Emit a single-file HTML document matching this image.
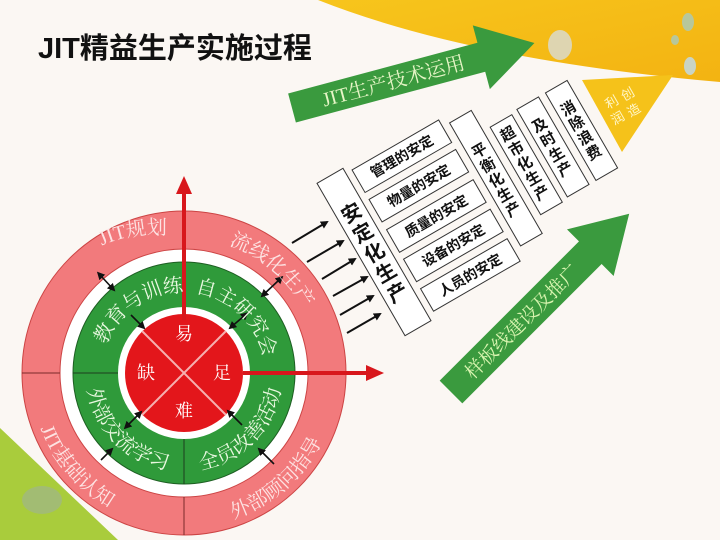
<!DOCTYPE html>
<html><head><meta charset="utf-8"><style>
html,body{margin:0;padding:0;background:#fbf7f3;}
svg{display:block;font-family:"Liberation Sans","Noto Sans CJK SC",sans-serif;}
</style></head><body>
<svg width="720" height="540" viewBox="0 0 720 540" xmlns="http://www.w3.org/2000/svg">
<defs>
<marker id="ah" markerWidth="8" markerHeight="8" refX="6" refY="4" orient="auto" markerUnits="userSpaceOnUse"><path d="M0,0 L8,4 L0,8 Z" fill="#111"/></marker>
<marker id="as" markerWidth="8" markerHeight="8" refX="2" refY="4" orient="auto-start-reverse" markerUnits="userSpaceOnUse"><path d="M0,0 L8,4 L0,8 Z" fill="#111"/></marker>
<linearGradient id="yel" x1="0" y1="0" x2="1" y2="1"><stop offset="0" stop-color="#f7c51c"/><stop offset="1" stop-color="#f3b312"/></linearGradient>
</defs>
<rect width="720" height="540" fill="#fbf7f3"/>
<path d="M318,0 Q470,60 720,82 L720,0 Z" fill="url(#yel)"/>
<path d="M0,428 L118,540 L0,540 Z" fill="#a9cc3c"/>
<ellipse cx="42" cy="500" rx="20" ry="14" fill="#9fb58a" opacity="0.7"/>
<ellipse cx="560" cy="45" rx="12" ry="15" fill="#d8dcd8" opacity="0.8"/>
<ellipse cx="688" cy="22" rx="6" ry="9" fill="#b7c79b"/>
<ellipse cx="675" cy="40" rx="4" ry="5" fill="#b7c79b"/>
<ellipse cx="690" cy="66" rx="6" ry="9" fill="#c9d4c4"/>

<text x="38" y="58" font-size="29" font-weight="bold" fill="#111">JIT精益生产实施过程</text>

<g transform="translate(292,108) rotate(-15)">
<polygon points="0,-15 196,-15 196,-33 251,0 196,33 196,15 0,15" fill="#3a9a3e"/>
<text x="105" y="7" font-size="20" fill="#e6f5c6" text-anchor="middle" font-family="Liberation Serif,Noto Serif CJK SC,serif">JIT生产技术运用</text>
</g>
<g transform="translate(451,392) rotate(-45)">
<polygon points="0,-16 197,-16 197,-33 252,0 197,33 197,16 0,16" fill="#3a9a3e"/>
<text x="100" y="7" font-size="19" fill="#d9f5b0" text-anchor="middle" font-family="Liberation Serif,Noto Serif CJK SC,serif">样板线建设及推广</text>
</g>

<polygon points="582,80 673,75 622,152" fill="#f5c21a"/>
<g font-size="13" fill="#fff6c8" text-anchor="middle">
<text transform="translate(630,98) rotate(-30)">创</text>
<text transform="translate(636,114) rotate(-30)">造</text>
<text transform="translate(614,106) rotate(-30)">利</text>
<text transform="translate(620,122) rotate(-30)">润</text>
</g>

<g transform="translate(374,252) rotate(-30)" fill="#fff" stroke="#333" stroke-width="1">
<rect x="-15" y="-88" width="30" height="176"/>
<rect x="22" y="-82" width="100" height="26"/>
<rect x="22" y="-48" width="100" height="26"/>
<rect x="22" y="-13" width="100" height="26"/>
<rect x="22" y="21" width="100" height="26"/>
<rect x="22" y="55" width="100" height="26"/>
<rect x="130" y="-74" width="25" height="142"/>
<rect x="163" y="-50" width="25" height="101"/>
<rect x="195" y="-52" width="25" height="101"/>
<rect x="228" y="-52" width="25" height="101"/>
<g stroke="none" fill="#111" font-weight="bold" text-anchor="middle">
<g font-size="20"><text x="0" y="-38">安</text><text x="0" y="-15">定</text><text x="0" y="8">化</text><text x="0" y="31">生</text><text x="0" y="54">产</text></g>
<g font-size="14"><text x="72" y="-64">管理的安定</text><text x="72" y="-30">物量的安定</text><text x="72" y="5">质量的安定</text><text x="72" y="39">设备的安定</text><text x="72" y="73">人员的安定</text></g>
<g font-size="15">
<text x="142" y="-30">平</text><text x="142" y="-13">衡</text><text x="142" y="4">化</text><text x="142" y="21">生</text><text x="142" y="38">产</text>
<text x="175" y="-30">超</text><text x="175" y="-13">市</text><text x="175" y="4">化</text><text x="175" y="21">生</text><text x="175" y="38">产</text>
<text x="207" y="-22">及</text><text x="207" y="-5">时</text><text x="207" y="12">生</text><text x="207" y="29">产</text>
<text x="240" y="-22">消</text><text x="240" y="-5">除</text><text x="240" y="12">浪</text><text x="240" y="29">费</text>
</g></g>
</g>

<g stroke="#111" stroke-width="2" marker-end="url(#ah)">
<line x1="292" y1="243" x2="327" y2="222"/>
<line x1="307" y1="262" x2="343" y2="241"/>
<line x1="322" y1="279" x2="355" y2="259"/>
<line x1="333" y1="296" x2="367" y2="277"/>
<line x1="340" y1="315" x2="373" y2="296"/>
<line x1="347" y1="333" x2="380" y2="314"/>
</g>

<circle cx="184" cy="373" r="162" fill="#f27a7c" stroke="#c44" stroke-width="1"/>
<circle cx="184" cy="373" r="124" fill="#fff" stroke="#c44" stroke-width="1"/>
<circle cx="184" cy="373" r="111" fill="#2f9a3a" stroke="#1d5e22" stroke-width="1"/>
<circle cx="184" cy="373" r="66" fill="#fff"/>
<line x1="22" y1="373" x2="60" y2="373" stroke="#7a2a2a" stroke-width="1"/>
<line x1="184" y1="497" x2="184" y2="535" stroke="#7a2a2a" stroke-width="1"/>
<line x1="73" y1="373" x2="118" y2="373" stroke="#1d3d1d" stroke-width="1"/>
<line x1="184" y1="439" x2="184" y2="484" stroke="#1d3d1d" stroke-width="1"/>
<circle cx="184" cy="373" r="59" fill="#e3161b"/>
<line x1="142" y1="331" x2="226" y2="415" stroke="#f6b0b0" stroke-width="2"/>
<line x1="226" y1="331" x2="142" y2="415" stroke="#f6b0b0" stroke-width="2"/>
<g fill="#fff" font-size="18" text-anchor="middle" font-family="Liberation Serif,Noto Serif CJK SC,serif">
<text x="184" y="340">易</text><text x="146" y="379">缺</text><text x="222" y="379">足</text><text x="184" y="417">难</text>
</g>
<line x1="184" y1="320" x2="184" y2="192" stroke="#d8171c" stroke-width="4"/>
<polygon points="184,176 176,194 192,194" fill="#d8171c"/>
<line x1="243" y1="373" x2="370" y2="373" stroke="#d8171c" stroke-width="4"/>
<polygon points="384,373 366,365 366,381" fill="#d8171c"/>

<g stroke="#111" stroke-width="1.6">
<line x1="101" y1="276" x2="114" y2="290" marker-end="url(#ah)" marker-start="url(#as)"/>
<line x1="131" y1="315" x2="144" y2="328" marker-end="url(#ah)"/>
<line x1="279" y1="280" x2="262" y2="296" marker-end="url(#ah)" marker-start="url(#as)"/>
<line x1="244" y1="316" x2="230" y2="328" marker-end="url(#ah)" marker-start="url(#as)"/>
<line x1="101" y1="460" x2="112" y2="449" marker-end="url(#ah)"/>
<line x1="128" y1="425" x2="141" y2="412" marker-end="url(#ah)" marker-start="url(#as)"/>
<line x1="274" y1="464" x2="259" y2="449" marker-end="url(#ah)"/>
<line x1="242" y1="425" x2="228" y2="411" marker-end="url(#ah)"/>
</g>

<defs>
<path id="p1" d="M 86.4,253.5 A 136,136 0 0 1 184,237"/>
<path id="p2" d="M 195.9,237.5 A 136,136 0 0 1 315.4,339.8"/>
<path id="p3" d="M 32.5,399.7 A 154,154 0 0 0 136.4,519.5"/>
<path id="p4" d="M 217,523.4 A 154,154 0 0 0 328.6,426.4"/>
<path id="q1" d="M 108.6,339 A 81,81 0 0 1 177,292.3"/>
<path id="q2" d="M 187,292.1 A 81,81 0 0 1 264.5,365"/>
<path id="q3" d="M 86.8,385.6 A 98,98 0 0 0 171.2,470.2"/>
<path id="q4" d="M 196.8,470.2 A 98,98 0 0 0 281.2,385.6"/>
</defs>
<g fill="#fde3e3" font-size="20" font-family="Liberation Serif,Noto Serif CJK SC,serif">
<text><textPath href="#p1" startOffset="50%" text-anchor="middle">JIT规划</textPath></text>
<text><textPath href="#p2" startOffset="50%" text-anchor="middle">流线化生产</textPath></text>
<text><textPath href="#p3" startOffset="50%" text-anchor="middle">JIT基础认知</textPath></text>
<text><textPath href="#p4" startOffset="50%" text-anchor="middle">外部顾问指导</textPath></text>
</g>
<g fill="#e9f8e0" font-size="20" font-family="Liberation Serif,Noto Serif CJK SC,serif">
<text><textPath href="#q1" startOffset="50%" text-anchor="middle">教育与训练</textPath></text>
<text><textPath href="#q2" startOffset="50%" text-anchor="middle">自主研究会</textPath></text>
<text><textPath href="#q3" startOffset="50%" text-anchor="middle">外部交流学习</textPath></text>
<text><textPath href="#q4" startOffset="50%" text-anchor="middle">全员改善活动</textPath></text>
</g>
</svg>
</body></html>
